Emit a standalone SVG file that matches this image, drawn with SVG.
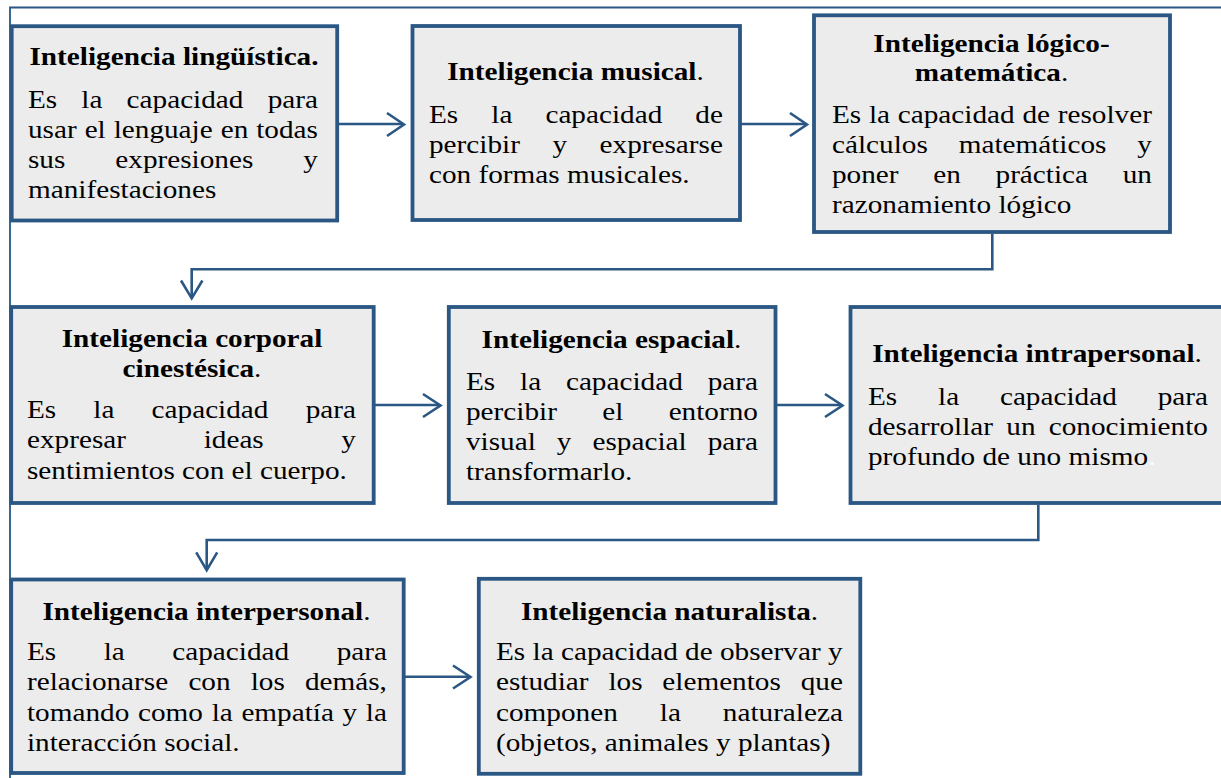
<svg xmlns="http://www.w3.org/2000/svg" width="1221" height="778" viewBox="0 0 1221 778">
<style>
.box{fill:#ececec;stroke:#2a5783;stroke-width:3.8}
.frame{fill:none;stroke:#2a5783;stroke-width:1.8}
.conn{fill:none;stroke:#2a5783;stroke-width:2.6}
text{font-family:'Liberation Serif','Times New Roman',Tinos,'Nimbus Roman',Times,serif;font-size:26px;fill:#000}
.b{font-weight:bold}
.n{font-weight:normal}
.c{text-anchor:middle}
</style>
<rect width="1221" height="778" fill="#fff"/>
<g id="frame">
<path class="frame" d="M10,778 V7.5 H1221"/>
</g>
<g id="connectors">
<path class="conn" d="M339,124 H403"/>
<path class="conn" d="M387,113 L404,124.5 L387,136"/>
<path class="conn" d="M741,124 H806"/>
<path class="conn" d="M790,113 L807,124.5 L790,136"/>
<path class="conn" d="M992.3,234 V269.3 H191.7 V297"/>
<path class="conn" d="M181,280.5 L191.7,298.3 L202.4,280.5"/>
<path class="conn" d="M375,405 H439"/>
<path class="conn" d="M423,394 L440.5,405.5 L423,417"/>
<path class="conn" d="M777,405 H841"/>
<path class="conn" d="M825,394 L842.5,405.5 L825,417"/>
<path class="conn" d="M1038.3,505 V540 H206.7 V569"/>
<path class="conn" d="M196.2,552.3 L206.7,570.2 L217.2,552.3"/>
<path class="conn" d="M405,676.7 H469"/>
<path class="conn" d="M453,665.5 L470.5,677 L453,688.5"/>
</g>
<g id="n1" font-family="Liberation Serif, serif">
<rect class="box" x="11.7" y="26.2" width="325.5" height="194.3"/>
<g transform="scale(1.125 1)">
<text class="b c" x="154.67" y="65">Inteligencia lingüística.</text>
<text y="108"><tspan x="24.89">Es</tspan><tspan x="72.33">la</tspan><tspan x="112.54">capacidad</tspan><tspan x="237.92">para</tspan></text>
<text y="138"><tspan x="24.89">usar</tspan><tspan x="75.25">el</tspan><tspan x="101.06">lenguaje</tspan><tspan x="196.19">en</tspan><tspan x="227.78">todas</tspan></text>
<text y="168"><tspan x="24.89">sus</tspan><tspan x="102.52">expresiones</tspan><tspan x="269.67">y</tspan></text>
<text x="24.89" y="198">manifestaciones</text>
</g>
</g>
<g id="n2">
<rect class="box" x="412.5" y="26" width="327.5" height="194"/>
<g transform="scale(1.125 1)">
<text class="b c" x="511.56" y="80">Inteligencia musical<tspan class="n">.</tspan></text>
<text y="123"><tspan x="381.33">Es</tspan><tspan x="436.69">la</tspan><tspan x="484.82">capacidad</tspan><tspan x="618.12">de</tspan></text>
<text y="153"><tspan x="381.33">percibir</tspan><tspan x="491.07">y</tspan><tspan x="532.95">expresarse</tspan></text>
<text x="381.33" y="183">con formas musicales.</text>
</g>
</g>
<g id="n3">
<rect class="box" x="814" y="15.3" width="356" height="216.7"/>
<g transform="scale(1.125 1)">
<text class="b c" x="881.33" y="52">Inteligencia lógico-</text>
<text class="b c" x="881.33" y="81">matemática<tspan class="n">.</tspan></text>
<text y="123"><tspan x="739.56">Es</tspan><tspan x="772.41">la</tspan><tspan x="798.04">capacidad</tspan><tspan x="908.85">de</tspan><tspan x="940.25">resolver</tspan></text>
<text y="153"><tspan x="739.56">cálculos</tspan><tspan x="852.16">matemáticos</tspan><tspan x="1011">y</tspan></text>
<text y="183"><tspan x="739.56">poner</tspan><tspan x="829.56">en</tspan><tspan x="884.91">práctica</tspan><tspan x="998">un</tspan></text>
<text x="739.56" y="213">razonamiento lógico</text>
</g>
</g>
<g id="n4">
<rect class="box" x="11.2" y="307" width="362.5" height="196"/>
<g transform="scale(1.125 1)">
<text class="b c" x="170.67" y="347">Inteligencia corporal</text>
<text class="b c" x="170.67" y="377">cinestésica<tspan class="n">.</tspan></text>
<text y="418"><tspan x="24">Es</tspan><tspan x="82.99">la</tspan><tspan x="134.76">capacidad</tspan><tspan x="271.7">para</tspan></text>
<text y="448"><tspan x="24">expresar</tspan><tspan x="181.04">ideas</tspan><tspan x="303.44">y</tspan></text>
<text x="24" y="479">sentimientos con el cuerpo.</text>
</g>
</g>
<g id="n5">
<rect class="box" x="448.8" y="307" width="326.7" height="196"/>
<g transform="scale(1.125 1)">
<text class="b c" x="543.56" y="348">Inteligencia espacial<tspan class="n">.</tspan></text>
<text y="390"><tspan x="414.22">Es</tspan><tspan x="462.25">la</tspan><tspan x="503.05">capacidad</tspan><tspan x="629.03">para</tspan></text>
<text y="420"><tspan x="414.22">percibir</tspan><tspan x="535.33">el</tspan><tspan x="594.35">entorno</tspan></text>
<text y="450"><tspan x="414.22">visual</tspan><tspan x="494.99">y</tspan><tspan x="526.64">espacial</tspan><tspan x="629.03">para</tspan></text>
<text x="414.22" y="480">transformarlo.</text>
</g>
</g>
<g id="n6">
<rect class="box" x="850.5" y="307" width="380" height="196"/>
<g transform="scale(1.125 1)">
<text class="b c" x="921.78" y="362">Inteligencia intrapersonal<tspan class="n">.</tspan></text>
<text y="405"><tspan x="771.56">Es</tspan><tspan x="833.81">la</tspan><tspan x="888.83">capacidad</tspan><tspan x="1029.03">para</tspan></text>
<text y="435"><tspan x="771.56">desarrollar</tspan><tspan x="894.48">un</tspan><tspan x="932.23">conocimiento</tspan></text>
<text x="771.56" y="465">profundo de uno mismo<tspan fill="#fff">.</tspan></text>
</g>
</g>
<g id="n7">
<rect class="box" x="11.2" y="579.5" width="392.5" height="193.5"/>
<g transform="scale(1.125 1)">
<text class="b c" x="183.56" y="620">Inteligencia interpersonal<tspan class="n">.</tspan></text>
<text y="660"><tspan x="24">Es</tspan><tspan x="92.18">la</tspan><tspan x="153.13">capacidad</tspan><tspan x="299.25">para</tspan></text>
<text y="690.5"><tspan x="24">relacionarse</tspan><tspan x="167.47">con</tspan><tspan x="222.87">los</tspan><tspan x="271.07">demás,</tspan></text>
<text y="721"><tspan x="24">tomando</tspan><tspan x="122.67">como</tspan><tspan x="188.12">la</tspan><tspan x="214.57">empatía</tspan><tspan x="304.56">y</tspan><tspan x="325.23">la</tspan></text>
<text x="24" y="751.5">interacción social.</text>
</g>
</g>
<g id="n8">
<rect class="box" x="478.8" y="578.8" width="381.5" height="195"/>
<g transform="scale(1.125 1)">
<text class="b c" x="595.11" y="620">Inteligencia naturalista<tspan class="n">.</tspan></text>
<text x="440.89" y="660">Es la capacidad de observar y</text>
<text y="690.5"><tspan x="440.89">estudiar</tspan><tspan x="540.81">los</tspan><tspan x="588.76">elementos</tspan><tspan x="711.79">que</tspan></text>
<text y="721"><tspan x="440.89">componen</tspan><tspan x="586.47">la</tspan><tspan x="642.5">naturaleza</tspan></text>
<text x="440.89" y="751.5">(objetos, animales y plantas)</text>
</g>
</g>
</svg>
